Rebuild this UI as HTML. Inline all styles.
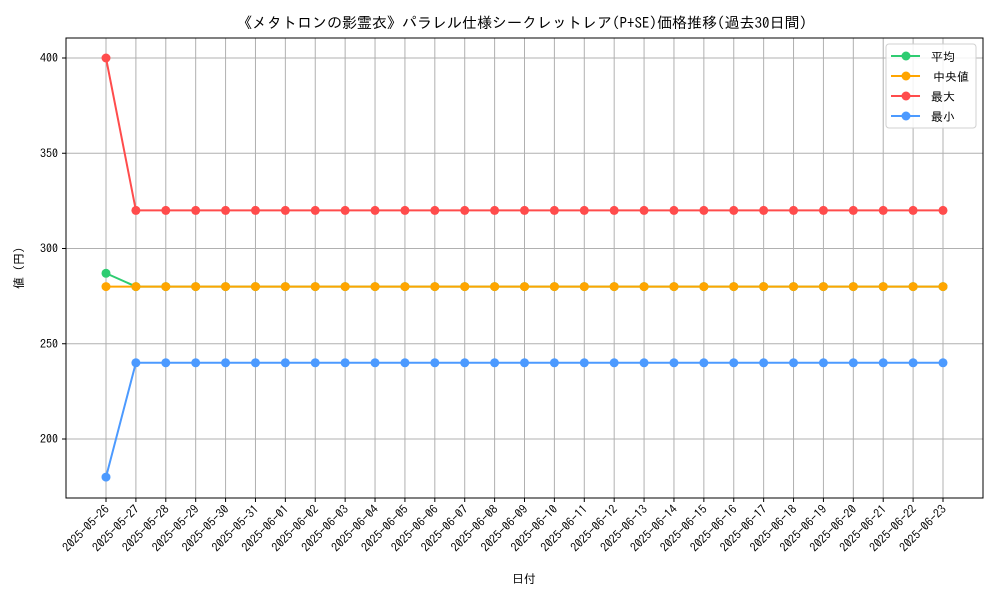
<!DOCTYPE html>
<html><head><meta charset="utf-8"><style>
body{margin:0;background:#fff}
svg{display:block;font-family:"IPAGothic","Noto Sans CJK JP",monospace}
</style></head><body>
<svg id="chart" width="1000" height="600">
<rect x="0" y="0" width="1000" height="600" fill="#fff"/>
<text x="522" y="28" text-anchor="middle" font-size="15">《メタトロンの影霊衣》パラレル仕様シークレットレア(P+SE)価格推移(過去30日間)</text>
<g id="grid"></g><g id="series"></g><g id="axes"></g>
<text x="524" y="583" text-anchor="middle" font-size="12">日付</text>
<text transform="translate(23,268) rotate(-90)" text-anchor="middle" font-size="12">値 (円)</text>
<g id="legend"></g>
</svg>
<script>
const dates=["2025-05-26","2025-05-27","2025-05-28","2025-05-29","2025-05-30","2025-05-31","2025-06-01","2025-06-02","2025-06-03","2025-06-04","2025-06-05","2025-06-06","2025-06-07","2025-06-08","2025-06-09","2025-06-10","2025-06-11","2025-06-12","2025-06-13","2025-06-14","2025-06-15","2025-06-16","2025-06-17","2025-06-18","2025-06-19","2025-06-20","2025-06-21","2025-06-22","2025-06-23"];
const avgVals=[287,280,280,280,280,280,280,280,280,280,280,280,280,280,280,280,280,280,280,280,280,280,280,280,280,280,280,280,280];
const medVals=[280,280,280,280,280,280,280,280,280,280,280,280,280,280,280,280,280,280,280,280,280,280,280,280,280,280,280,280,280];
const maxVals=[400,320,320,320,320,320,320,320,320,320,320,320,320,320,320,320,320,320,320,320,320,320,320,320,320,320,320,320,320];
const minVals=[180,240,240,240,240,240,240,240,240,240,240,240,240,240,240,240,240,240,240,240,240,240,240,240,240,240,240,240,240];
const yTicks=[200,250,300,350,400];
const seriesNames=["平均","中央値","最大","最小"];
const NS="http://www.w3.org/2000/svg";
const L=66,R=983,T=38,B=498;
const x0=106,x1=943;
function xs(i){return x0+(x1-x0)*i/(dates.length-1);}
function ys(v){return 58+(400-v)*(439-58)/200;}
function mk(tag,attrs,parent){const e=document.createElementNS(NS,tag);for(const k in attrs)e.setAttribute(k,attrs[k]);parent.appendChild(e);return e;}
const grid=document.getElementById('grid'),axes=document.getElementById('axes'),ser=document.getElementById('series');
dates.forEach((d,i)=>{
  const g=mk('line',{x1:xs(i),x2:xs(i),y1:T,y2:B,stroke:'#b0b0b0','stroke-width':1},grid);
  
  
  mk('line',{x1:xs(i),x2:xs(i),y1:B,y2:B+4,stroke:'#000'},axes);
  const t=mk('text',{x:xs(i)+4,y:B+12,'text-anchor':'end','font-size':12,transform:`rotate(-45 ${xs(i)+4} ${B+12})`},axes);
  t.textContent=d;
  
  
});
yTicks.forEach(v=>{
  const g=mk('line',{x1:L,x2:R,y1:ys(v),y2:ys(v),stroke:'#b0b0b0','stroke-width':1},grid);
  
  
  mk('line',{x1:L-4,x2:L,y1:ys(v),y2:ys(v),stroke:'#000'},axes);
  const t=mk('text',{x:L-8,y:ys(v)+4,'text-anchor':'end','font-size':12},axes);
  t.textContent=v;
  
  
});
const fr=mk('rect',{x:L,y:T,width:R-L,height:B-T,fill:'none',stroke:'#000','stroke-width':1},axes);


const all=[avgVals,medVals,maxVals,minVals];
const cols=["#2ecc71","#ffa500","#ff4c4c","#4c9aff"];
const snames=["series-average","series-median","series-max","series-min"];
all.forEach((vals,s)=>{
  const g=mk('g',{},ser);
  
  
  mk('polyline',{points:vals.map((v,i)=>xs(i)+','+ys(v)).join(' '),fill:'none',stroke:cols[s],'stroke-width':2},g);
  vals.forEach((v,i)=>{
    const c=mk('circle',{cx:xs(i),cy:ys(v),r:4.5,fill:cols[s]},g);
    
    
  });
});
const lg=document.getElementById('legend');
mk('rect',{x:886,y:44,width:90,height:84,rx:3,fill:'#fff','fill-opacity':0.85,stroke:'#d0d0d0'},lg);
seriesNames.forEach((n,s)=>{
  const y=56+s*20;
  const e=mk('g',{},lg);
  
  
  mk('line',{x1:891,x2:920,y1:y,y2:y,stroke:cols[s],'stroke-width':2},e);
  mk('circle',{cx:906,cy:y,r:4.5,fill:cols[s]},e);
  const t=mk('text',{x:s==1?933:931,y:y+5,'font-size':12},e);
  t.textContent=n;
});
</script>
</body></html>
